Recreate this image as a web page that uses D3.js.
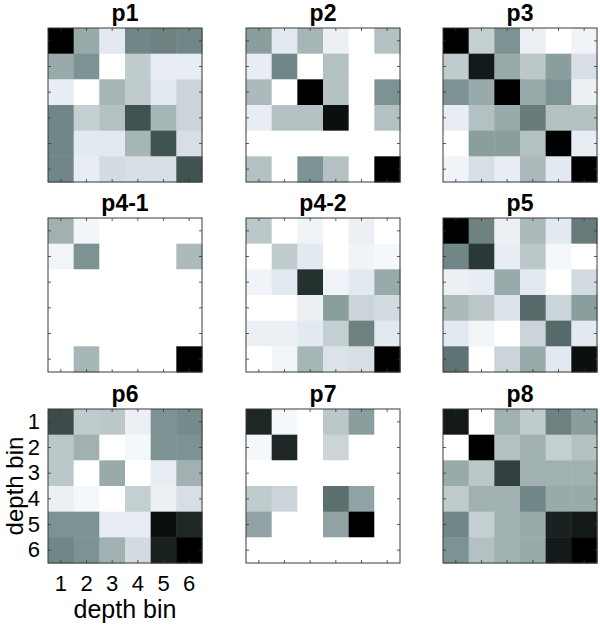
<!DOCTYPE html>
<html>
<head>
<meta charset="utf-8">
<script src="https://cdn.jsdelivr.net/npm/d3@7"></script>
<style>
  body { margin: 0; background: #fff; }
  text { font-family: "Liberation Sans", Arial, Helvetica, sans-serif; fill: #000; }
</style>
</head>
<body>
<div id="chart"></div>
<script>
// depth bins (rows = bin at top, cols = bin left->right)
const DEPTH_BINS = [1, 2, 3, 4, 5, 6];
const PANEL_NAMES = ["p1", "p2", "p3", "p4-1", "p4-2", "p5", "p6", "p7", "p8"];

// cell intensities, 0 = white, 1 = black
const p1 = [
  [1.00, 0.45, 0.15, 0.60, 0.62, 0.60],
  [0.45, 0.55, 0.00, 0.30, 0.12, 0.12],
  [0.12, 0.00, 0.40, 0.30, 0.15, 0.25],
  [0.60, 0.28, 0.35, 0.80, 0.40, 0.25],
  [0.60, 0.15, 0.15, 0.40, 0.80, 0.20],
  [0.60, 0.12, 0.22, 0.20, 0.20, 0.80]
];
const p2 = [
  [0.50, 0.15, 0.40, 0.10, 0.00, 0.35],
  [0.12, 0.60, 0.00, 0.35, 0.00, 0.00],
  [0.38, 0.00, 1.00, 0.35, 0.00, 0.55],
  [0.12, 0.35, 0.35, 0.97, 0.00, 0.35],
  [0.00, 0.00, 0.00, 0.00, 0.00, 0.00],
  [0.35, 0.00, 0.55, 0.35, 0.00, 1.00]
];
const p3 = [
  [1.00, 0.28, 0.55, 0.10, 0.00, 0.08],
  [0.30, 0.95, 0.45, 0.32, 0.50, 0.20],
  [0.55, 0.45, 1.00, 0.45, 0.55, 0.10],
  [0.12, 0.35, 0.45, 0.65, 0.35, 0.35],
  [0.00, 0.50, 0.50, 0.35, 1.00, 0.12],
  [0.08, 0.20, 0.12, 0.38, 0.15, 1.00]
];
const p4_1 = [
  [0.42, 0.07, 0.00, 0.00, 0.00, 0.00],
  [0.07, 0.55, 0.00, 0.00, 0.00, 0.38],
  [0.00, 0.00, 0.00, 0.00, 0.00, 0.00],
  [0.00, 0.00, 0.00, 0.00, 0.00, 0.00],
  [0.00, 0.00, 0.00, 0.00, 0.00, 0.00],
  [0.00, 0.40, 0.00, 0.00, 0.00, 1.00]
];
const p4_2 = [
  [0.32, 0.00, 0.08, 0.00, 0.10, 0.00],
  [0.00, 0.30, 0.15, 0.00, 0.08, 0.05],
  [0.08, 0.15, 0.90, 0.08, 0.15, 0.45],
  [0.00, 0.00, 0.10, 0.50, 0.25, 0.22],
  [0.10, 0.10, 0.15, 0.28, 0.62, 0.15],
  [0.00, 0.07, 0.40, 0.18, 0.20, 1.00]
];
const p5 = [
  [1.00, 0.62, 0.10, 0.38, 0.15, 0.65],
  [0.60, 0.88, 0.12, 0.32, 0.05, 0.00],
  [0.10, 0.12, 0.45, 0.15, 0.00, 0.22],
  [0.38, 0.32, 0.18, 0.72, 0.25, 0.50],
  [0.15, 0.07, 0.00, 0.25, 0.72, 0.15],
  [0.68, 0.00, 0.25, 0.45, 0.15, 0.97]
];
const p6 = [
  [0.82, 0.30, 0.32, 0.10, 0.55, 0.58],
  [0.32, 0.42, 0.00, 0.05, 0.55, 0.55],
  [0.32, 0.00, 0.45, 0.00, 0.12, 0.42],
  [0.10, 0.05, 0.00, 0.28, 0.10, 0.20],
  [0.55, 0.55, 0.12, 0.12, 0.97, 0.92],
  [0.60, 0.55, 0.42, 0.22, 0.93, 1.00]
];
const p7 = [
  [0.92, 0.05, 0.00, 0.32, 0.50, 0.00],
  [0.05, 0.92, 0.00, 0.25, 0.00, 0.00],
  [0.00, 0.00, 0.00, 0.00, 0.00, 0.00],
  [0.30, 0.25, 0.00, 0.70, 0.48, 0.00],
  [0.48, 0.00, 0.00, 0.48, 1.00, 0.00],
  [0.00, 0.00, 0.00, 0.00, 0.00, 0.00]
];
const p8 = [
  [0.95, 0.00, 0.42, 0.30, 0.62, 0.50],
  [0.00, 1.00, 0.35, 0.42, 0.28, 0.35],
  [0.45, 0.32, 0.85, 0.42, 0.42, 0.42],
  [0.30, 0.42, 0.42, 0.60, 0.45, 0.45],
  [0.60, 0.28, 0.42, 0.45, 0.93, 0.95],
  [0.55, 0.35, 0.42, 0.45, 0.95, 1.00]
];
const PANEL_VALUES = [p1, p2, p3, p4_1, p4_2, p5, p6, p7, p8];

const width = 600, height = 627;
const size = 154;
const colX = [48, 246, 443];
const rowY = [28, 218, 409];

// bone-ish reversed grey map
const color = d3.scaleLinear()
  .domain([0, 0.15, 0.35, 0.55, 0.75, 0.9, 1])
  .range(["#ffffff", "#e2e9f0", "#b4c1c2", "#7d9292", "#4e6362", "#25312f", "#000000"])
  .clamp(true);

const x = d3.scaleBand().domain(DEPTH_BINS).range([0, size]);
const y = d3.scaleBand().domain(DEPTH_BINS).range([0, size]);

const svg = d3.select("#chart").append("svg")
  .attr("width", width)
  .attr("height", height);

PANEL_NAMES.forEach((name, k) => {
  const g = svg.append("g")
    .attr("transform", `translate(${colX[k % 3]},${rowY[Math.floor(k / 3)]})`);

  const cells = [];
  PANEL_VALUES[k].forEach((row, i) => row.forEach((v, j) => cells.push({ r: DEPTH_BINS[i], c: DEPTH_BINS[j], v })));

  g.selectAll("rect.cell")
    .data(cells)
    .enter().append("rect")
    .attr("class", "cell")
    .attr("x", d => x(d.c))
    .attr("y", d => y(d.r))
    .attr("width", x.bandwidth() + 0.5)
    .attr("height", y.bandwidth() + 0.5)
    .attr("fill", d => color(d.v));

  // inward ticks on all four sides (matlab box style)
  const noLabel = () => "";
  g.append("g").attr("transform", `translate(0,${size})`)
    .call(d3.axisBottom(x).tickSizeInner(-3).tickSizeOuter(0).tickFormat(noLabel));
  g.append("g")
    .call(d3.axisTop(x).tickSizeInner(-3).tickSizeOuter(0).tickFormat(noLabel));
  g.append("g")
    .call(d3.axisLeft(y).tickSizeInner(-3).tickSizeOuter(0).tickFormat(noLabel));
  g.append("g").attr("transform", `translate(${size},0)`)
    .call(d3.axisRight(y).tickSizeInner(-3).tickSizeOuter(0).tickFormat(noLabel));
  g.selectAll(".domain").remove();
  g.selectAll(".tick line").attr("stroke", "#333").attr("stroke-width", 0.8);

  g.append("rect")
    .attr("width", size)
    .attr("height", size)
    .attr("fill", "none")
    .attr("stroke", "#3a3a3a")
    .attr("stroke-width", 1);

  g.append("text")
    .attr("x", size / 2)
    .attr("y", -7)
    .attr("text-anchor", "middle")
    .style("font-size", "23px")
    .style("font-weight", "bold")
    .text(name);

  // only the bottom-left panel carries tick labels
  if (name === "p6") {
    g.append("g").attr("transform", `translate(0,${size})`)
      .call(d3.axisBottom(x).tickSize(0).tickPadding(12))
      .call(a => a.select(".domain").remove())
      .selectAll("text").style("font-size", "22px").attr("fill", "#000");
    g.append("g")
      .call(d3.axisLeft(y).tickSize(0).tickPadding(8))
      .call(a => a.select(".domain").remove())
      .selectAll("text").style("font-size", "22px").attr("fill", "#000");

    g.append("text")
      .attr("x", size / 2)
      .attr("y", 209)
      .attr("text-anchor", "middle")
      .style("font-size", "25px")
      .text("depth bin");
    g.append("text")
      .attr("transform", `translate(-25,${size / 2}) rotate(-90)`)
      .attr("text-anchor", "middle")
      .style("font-size", "24px")
      .text("depth bin");
  }
});
</script>
</body>
</html>
